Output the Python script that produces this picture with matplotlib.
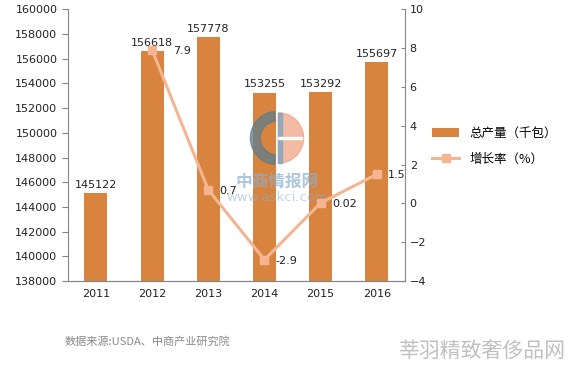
import matplotlib.pyplot as plt
import numpy as np
from matplotlib.patches import Wedge, Rectangle

plt.rcParams['font.family'] = ['DejaVu Sans', 'Noto Sans CJK SC']

years = ['2011', '2012', '2013', '2014', '2015', '2016']
output = [145122, 156618, 157778, 153255, 153292, 155697]
growth = [None, 7.9, 0.7, -2.9, 0.02, 1.5]
growth_labels = ['', '7.9', '0.7', '-2.9', '0.02', '1.5']

bar_color = '#D8843F'
line_color = '#F5B592'
axis_color = '#868686'

fig = plt.figure(figsize=(5.8, 3.67), dpi=100)
ax = fig.add_axes([0.117, 0.234, 0.581, 0.741])
x = np.arange(len(years))

bars = ax.bar(x, output, width=0.41, color=bar_color, zorder=2,
              label='总产量（千包）')
ax.set_ylim(138000, 160000)
ax.set_yticks(np.arange(138000, 160001, 2000))
ax.set_xlim(-0.5, len(years) - 0.5)
ax.set_xticks(x)
ax.set_xticklabels(years)
for xi, v in zip(x, output):
    ax.text(xi, v + 250, str(v), ha='center', va='bottom', fontsize=8,
            color='#222222', zorder=6)

ax2 = ax.twinx()
gx = [xi for xi, g in zip(x, growth) if g is not None]
gy = [g for g in growth if g is not None]
line, = ax2.plot(gx, gy, color=line_color, lw=2.2, marker='s',
                 markersize=6, label='增长率（%）', zorder=3)
ax2.set_ylim(-4, 10)
ax2.set_yticks(np.arange(-4, 11, 2))
for xi, g, lab in zip(x, growth, growth_labels):
    if g is None:
        continue
    dx = 0.38 if lab == '7.9' else 0.2
    ax2.text(xi + dx, g - 0.05, lab, ha='left', va='center', fontsize=8,
             color='#222222', zorder=6)

for a in (ax, ax2):
    a.spines['top'].set_visible(False)
    a.tick_params(labelsize=8, colors='#222222', length=4, width=0.8)
    for s in a.spines.values():
        s.set_color(axis_color)
ax.spines['right'].set_visible(False)
ax2.spines['left'].set_visible(False)
ax.tick_params(axis='y', color=axis_color)
ax.tick_params(axis='x', length=0, pad=6)
ax2.tick_params(axis='y', color=axis_color, direction='in', length=3)

# watermark logo
lg = fig.add_axes([249 / 580, 1 - 166 / 367, 56 / 580, 56 / 367])
lg.set_xlim(-1, 1)
lg.set_ylim(-1, 1)
lg.set_aspect('equal')
lg.axis('off')
lg.patch.set_alpha(0)
lg.add_patch(Wedge((0, 0), 0.95, 95, 265, width=0.35, color='#5E7C8C',
                   alpha=0.75))
lg.add_patch(Wedge((0.05, 0), 0.9, -90, 90, color='#F0A486', alpha=0.75))
lg.add_patch(Rectangle((0.05, -0.9), 0.12, 1.8, color='#7FA3C0', alpha=0.75))
lg.add_patch(Rectangle((0.05, -0.04), 0.85, 0.08, color='white'))

ax.text(3.23, 146000, '中商情报网', ha='center', va='center', fontsize=12,
        fontweight='bold', color='#8AB0D0', alpha=0.7, zorder=4,
        family='Noto Sans CJK SC')
ax.text(3.23, 144800, 'www.askci.com', ha='center', va='center', fontsize=9.5,
        color='#8AB0D0', alpha=0.55, zorder=4)

h1, l1 = ax.get_legend_handles_labels()
h2, l2 = ax2.get_legend_handles_labels()
fig.legend(h1 + h2, l1 + l2, loc='upper left', bbox_to_anchor=(0.725, 0.685),
           frameon=False, handlelength=2.2, labelspacing=1.0,
           prop={'family': 'Noto Sans CJK SC', 'size': 9})

fig.text(0.112, 0.06, '数据来源:USDA、中商产业研究院', fontsize=8,
         color='#8a8a8a', family='Noto Sans CJK SC')
fig.text(0.975, 0.015, '莘羽精致奢侈品网', fontsize=15, color='#c0c0c0',
         ha='right', va='bottom', family='Noto Sans CJK SC')

fig.savefig('out.png', dpi=100)
